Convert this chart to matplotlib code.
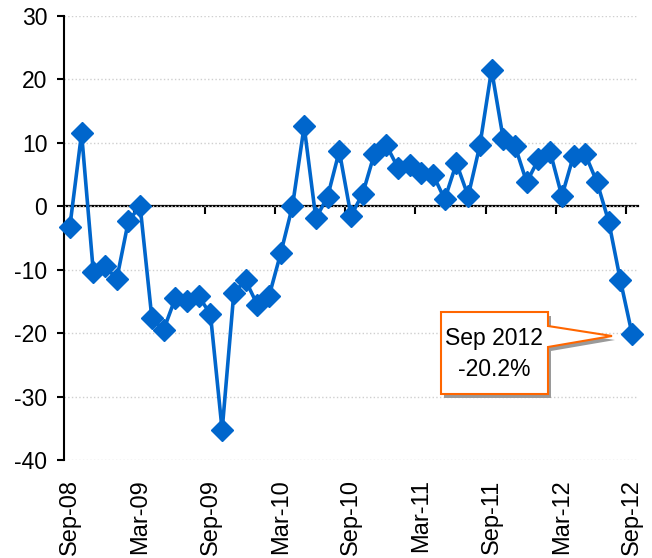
import matplotlib
matplotlib.use("Agg")
import matplotlib.pyplot as plt
from matplotlib.patches import Polygon
from matplotlib.ticker import FixedLocator

# monthly values, Sep-08 .. Sep-12
valores = [
    -3.2, 11.5, -10.3, -9.4, -11.5, -2.3, 0.0, -17.6, -19.5, -14.5,
    -15.0, -14.2, -17.0, -35.3, -13.6, -11.7, -15.5, -14.2, -7.4, 0.0,
    12.6, -1.9, 1.5, 8.7, -1.5, 2.0, 8.3, 9.7, 6.1, 6.5,
    5.3, 5.0, 1.1, 6.8, 1.6, 9.6, 21.5, 10.6, 9.5, 3.8,
    7.4, 8.6, 1.6, 8.0, 8.2, 3.8, -2.4, -11.7, -20.2,
]
etiquetas = ["Sep-08", "Mar-09", "Sep-09", "Mar-10", "Sep-10",
             "Mar-11", "Sep-11", "Mar-12", "Sep-12"]
paso = 6
y_ticks = [30, 20, 10, 0, -10, -20, -30, -40]

AZUL = "#0066CC"
NARANJA = "#FF6600"
W, H = 652, 558

plt.rcParams["font.family"] = ["Liberation Sans", "DejaVu Sans"]
plt.rcParams["axes.unicode_minus"] = False

fig = plt.figure(figsize=(W / 100, H / 100), dpi=100, facecolor="white")
ax = fig.add_axes([64 / W, 1 - 460 / H, (638 - 64) / W, (460 - 16) / H])

x = list(range(len(valores)))
ax.plot(x, valores, color=AZUL, lw=2.6, marker="D", markersize=11.5,
        markeredgecolor=AZUL, markerfacecolor=AZUL, zorder=3, clip_on=False)

ymin, ymax = min(y_ticks), max(y_ticks)
ax.set_ylim(ymin, ymax)
ax.set_xlim(-0.5, len(valores) - 0.5)

# eje y
ax.set_yticks(y_ticks)
ax.yaxis.grid(True, color="#cfcfcf", linestyle=":", linewidth=1)
ax.set_axisbelow(True)
ax.tick_params(axis="y", direction="out", length=5, width=1.5,
               labelsize=16.5, pad=7, colors="black")
for s in ["top", "right", "bottom"]:
    ax.spines[s].set_visible(False)
ax.spines["left"].set_linewidth(1.5)
ax.spines["left"].set_color("black")

# etiquetas x abajo, sin marcas
ax.set_xticks(x[::paso])
ax.set_xticklabels(etiquetas, rotation=90, fontsize=17)
ax.tick_params(axis="x", length=0, pad=14)

# línea de cero con marcas entre semestres
cero = (0 - ymin) / (ymax - ymin)
sec = ax.secondary_xaxis(cero)
sec.set_alignment("bottom")
sec.spines["bottom"].set_linewidth(1.6)
sec.spines["bottom"].set_color("black")
sec.xaxis.set_major_locator(FixedLocator([i - 0.5 for i in x[paso::paso]]))
sec.tick_params(axis="x", direction="out", length=6, width=1.5,
                labelbottom=False, labeltop=False)

# globo con el último valor
def px(a, b):
    return (a / W, 1 - b / H)

forma = [(441, 312), (548, 312), (548, 326), (612, 336), (548, 347),
         (548, 394), (441, 394)]
sombra = Polygon([px(a + 3, b + 4) for a, b in forma], closed=True,
                 transform=fig.transFigure, facecolor="#9a9a9a",
                 edgecolor="none", zorder=5)
caja = Polygon([px(a, b) for a, b in forma], closed=True,
               transform=fig.transFigure, facecolor="white",
               edgecolor=NARANJA, linewidth=1.5, zorder=6)
fig.patches.extend([sombra, caja])
tx, ty = px(494, 354)
fig.text(tx, ty, f"Sep 2012\n{valores[-1]:.1f}%", ha="center", va="center",
         fontsize=16.5, linespacing=1.45, zorder=7)

fig.savefig("out.png", dpi=100, facecolor="white")
